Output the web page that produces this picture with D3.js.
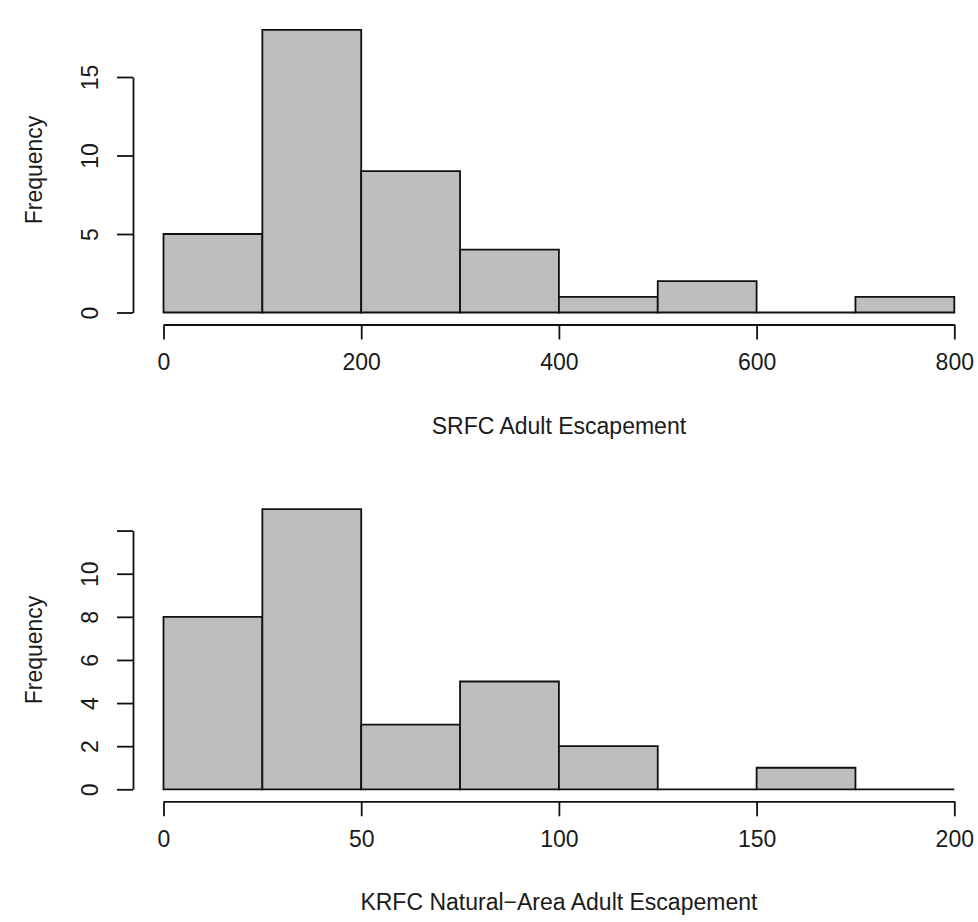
<!DOCTYPE html>
<html>
<head>
<meta charset="utf-8">
<script src="https://cdn.jsdelivr.net/npm/d3@7"></script>
<style>
  html, body { margin: 0; padding: 0; background: #ffffff; }
  svg { display: block; }
  text { font-family: "Liberation Sans", Arial, sans-serif; fill: #1a1a1a; }
</style>
</head>
<body>
<script>
// ---- Data ----
// Top histogram: SRFC Adult Escapement
const srfcBreaks = [0, 100, 200, 300, 400, 500, 600, 700, 800];
const srfcCounts = [5, 18, 9, 4, 1, 2, 0, 1];
const srfcXTicks = [0, 200, 400, 600, 800];
const srfcYTicks = [0, 5, 10, 15];
const srfcYLabels = ["0", "5", "10", "15"];
const srfcTitle = "SRFC Adult Escapement";

// Bottom histogram: KRFC Natural-Area Adult Escapement
const krfcBreaks = [0, 25, 50, 75, 100, 125, 150, 175, 200];
const krfcCounts = [8, 13, 3, 5, 2, 0, 1, 0];
const krfcXTicks = [0, 50, 100, 150, 200];
const krfcYTicks = [0, 2, 4, 6, 8, 10, 12];
const krfcYLabels = ["0", "2", "4", "6", "8", "10", ""];
const krfcTitle = "KRFC Natural\u2212Area Adult Escapement";

const yLabel = "Frequency";

// ---- Drawing ----
const W = 978, H = 922;
const FS = 23;
const svg = d3.select("body").append("svg").attr("width", W).attr("height", H);

function hist(cfg) {
  const g = svg.append("g");
  const x = d3.scaleLinear().domain([cfg.breaks[0], cfg.breaks[cfg.breaks.length - 1]]).range([163.5, 954.3]);
  const y = d3.scaleLinear().domain([0, cfg.yMax]).range([cfg.base, cfg.top]);

  const bins = cfg.counts.map((c, i) => ({ x0: cfg.breaks[i], x1: cfg.breaks[i + 1], c }));
  g.selectAll("path.bar").data(bins).enter().append("path")
    .attr("class", "bar")
    .attr("d", d => {
      const p = d3.path();
      p.moveTo(x(d.x0), y(0));
      p.lineTo(x(d.x1), y(0));
      p.lineTo(x(d.x1), y(d.c));
      p.lineTo(x(d.x0), y(d.c));
      p.closePath();
      return p.toString();
    })
    .attr("fill", "#bebebe")
    .attr("stroke", "#111")
    .attr("stroke-width", 1.8);

  // x axis
  const xa = g.append("g").attr("transform", `translate(0,${cfg.base + 12})`)
    .call(d3.axisBottom(x).tickValues(cfg.xTicks).tickSize(15).tickSizeOuter(0).tickPadding(14).tickFormat(d3.format("d")));
  xa.select(".domain").attr("stroke", "#111").attr("stroke-width", 1.8);
  xa.selectAll(".tick line").attr("stroke", "#111").attr("stroke-width", 1.8);
  xa.selectAll(".tick text").attr("font-size", FS).attr("fill", "#1a1a1a")
    .attr("font-family", "Liberation Sans, Arial, sans-serif");

  // y axis
  const ya = g.append("g").attr("transform", `translate(133,0)`)
    .call(d3.axisLeft(y).tickValues(cfg.yTicks).tickSize(16).tickSizeOuter(0)
      .tickFormat((d, i) => cfg.yLabels[i]));
  ya.select(".domain").attr("stroke", "#111").attr("stroke-width", 1.8);
  ya.selectAll(".tick line").attr("stroke", "#111").attr("stroke-width", 1.8);
  ya.selectAll(".tick text")
    .attr("x", 0).attr("dy", null)
    .attr("text-anchor", "middle")
    .attr("dominant-baseline", "central")
    .attr("transform", "translate(-43,0) rotate(-90)")
    .attr("font-size", FS).attr("fill", "#1a1a1a")
    .attr("font-family", "Liberation Sans, Arial, sans-serif");

  // titles
  g.append("text")
    .attr("x", (x.range()[0] + x.range()[1]) / 2)
    .attr("y", cfg.base + 113)
    .attr("text-anchor", "middle")
    .attr("dominant-baseline", "central")
    .attr("font-size", FS)
    .text(cfg.title);

  g.append("text")
    .attr("transform", `translate(34,${cfg.ylabY}) rotate(-90)`)
    .attr("text-anchor", "middle")
    .attr("dominant-baseline", "central")
    .attr("font-size", FS)
    .text(yLabel);
}

hist({ breaks: srfcBreaks, counts: srfcCounts, xTicks: srfcXTicks, yTicks: srfcYTicks, yLabels: srfcYLabels,
       yMax: 15, base: 312.5, top: 77, title: srfcTitle, ylabY: 170 });
hist({ breaks: krfcBreaks, counts: krfcCounts, xTicks: krfcXTicks, yTicks: krfcYTicks, yLabels: krfcYLabels,
       yMax: 12, base: 789.3, top: 530.6, title: krfcTitle, ylabY: 650 });
</script>
</body>
</html>
